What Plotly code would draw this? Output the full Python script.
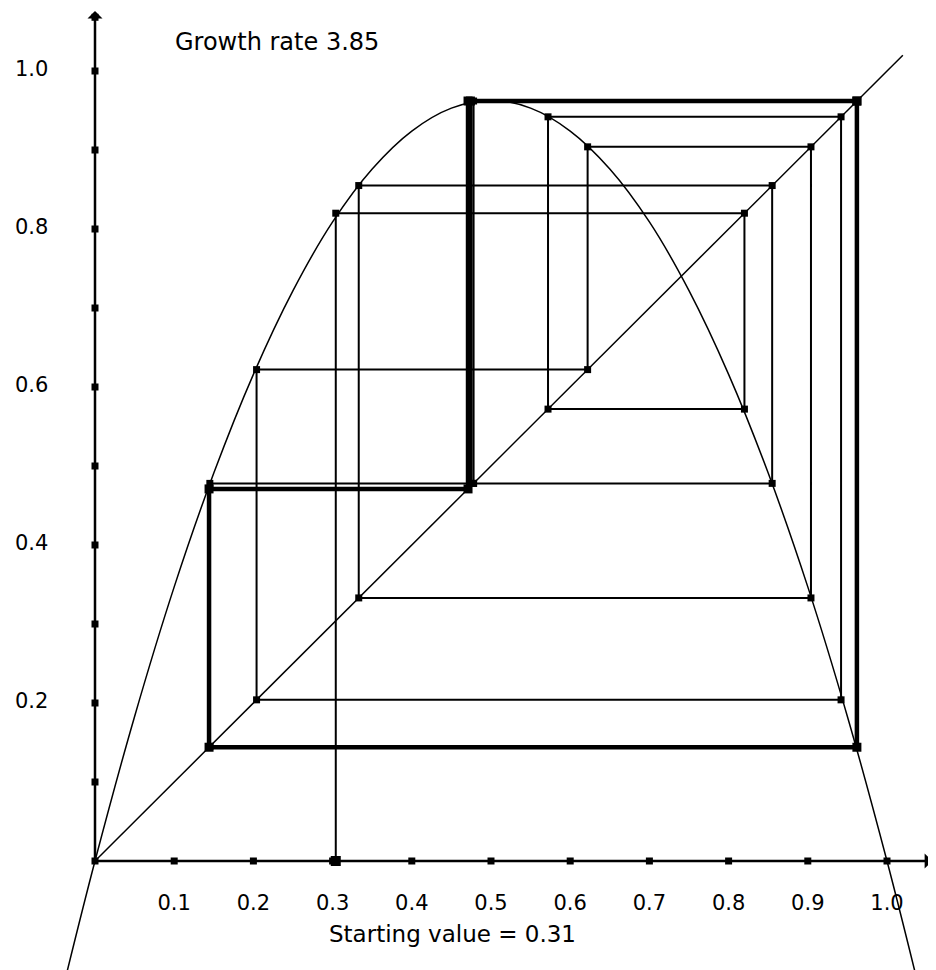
import plotly.graph_objects as go

# ---------------- data ----------------
growth_rate_text = "Growth rate 3.85"
start_text = "Starting value = 0.31"

# logistic curve y = r x (1 - x), read at regular x positions
curve_x = [-0.035, 0.0, 0.05, 0.10, 0.15, 0.20, 0.25, 0.30, 0.35, 0.40, 0.45, 0.50,
           0.55, 0.60, 0.65, 0.70, 0.75, 0.80, 0.85, 0.90, 0.95, 1.00, 1.035]
curve_y = [-0.139, 0.0, 0.183, 0.347, 0.491, 0.616, 0.722, 0.809, 0.876, 0.924, 0.953, 0.963,
           0.953, 0.924, 0.876, 0.809, 0.722, 0.616, 0.491, 0.347, 0.183, 0.0, -0.139]

# identity line
diag_x = [0.0, 1.02]
diag_y = [0.0, 1.02]

# successive values of the iteration (thin cobweb)
thin_orbit = [0.304, 0.82, 0.572, 0.942, 0.204, 0.622, 0.904, 0.333, 0.855, 0.478, 0.962, 0.145, 0.478]
# last pass drawn in bold
bold_orbit = [0.474, 0.962, 0.144, 0.471, 0.962]

# axis ticks
tick_vals = [0.1, 0.2, 0.3, 0.4, 0.5, 0.6, 0.7, 0.8, 0.9, 1.0]
x_tick_labels = ["0.1", "0.2", "0.3", "0.4", "0.5", "0.6", "0.7", "0.8", "0.9", "1.0"]
y_tick_vals = [0.2, 0.4, 0.6, 0.8, 1.0]
y_tick_labels = ["0.2", "0.4", "0.6", "0.8", "1.0"]

x_end = 1.057
y_end = 1.076


def cobweb(orbit, start_y):
    xs, ys = [orbit[0]], [start_y]
    cx, cy = [], []
    prev = orbit[0]
    for v in orbit[1:]:
        xs += [prev, v]
        ys += [v, v]
        cx += [prev, v]
        cy += [v, v]
        prev = v
    return xs, ys, cx, cy


tx, ty, tcx, tcy = cobweb(thin_orbit, 0.0)
bx, by, bcx, bcy = cobweb(bold_orbit, bold_orbit[0])

FONT = "DejaVu Sans"
fig = go.Figure()

# curve and diagonal
fig.add_trace(go.Scatter(x=curve_x, y=curve_y, mode="lines", line=dict(color="black", width=1.5, shape="spline"),
                         hoverinfo="skip"))
fig.add_trace(go.Scatter(x=diag_x, y=diag_y, mode="lines", line=dict(color="black", width=1.5), hoverinfo="skip"))

# cobweb thin
fig.add_trace(go.Scatter(x=tx, y=ty, mode="lines", line=dict(color="black", width=2), hoverinfo="skip"))
fig.add_trace(go.Scatter(x=tcx, y=tcy, mode="markers", marker=dict(symbol="square", size=7, color="black"),
                         hoverinfo="skip"))
fig.add_trace(go.Scatter(x=[thin_orbit[0]], y=[0], mode="markers",
                         marker=dict(symbol="square", size=10, color="black"), hoverinfo="skip"))
# cobweb bold
fig.add_trace(go.Scatter(x=bx, y=by, mode="lines", line=dict(color="black", width=4.5), hoverinfo="skip"))
fig.add_trace(go.Scatter(x=bcx, y=bcy, mode="markers", marker=dict(symbol="square", size=9, color="black"),
                         hoverinfo="skip"))

# axis tick dots
fig.add_trace(go.Scatter(x=[0] + tick_vals, y=[0] * (len(tick_vals) + 1), mode="markers",
                         marker=dict(symbol="square", size=7, color="black"), hoverinfo="skip"))
fig.add_trace(go.Scatter(x=[0] * len(tick_vals) + [0], y=tick_vals + [y_end - 0.008], mode="markers",
                         marker=dict(symbol="square", size=7, color="black"), hoverinfo="skip"))

# tick labels
fig.add_trace(go.Scatter(x=tick_vals, y=[-0.056] * len(tick_vals), mode="text", text=x_tick_labels,
                         textposition="middle center", textfont=dict(family=FONT, size=21, color="black"),
                         hoverinfo="skip"))
fig.add_trace(go.Scatter(x=[-0.08] * len(y_tick_vals), y=y_tick_vals, mode="text", text=y_tick_labels,
                         textposition="middle center", textfont=dict(family=FONT, size=21, color="black"),
                         hoverinfo="skip"))

# axes with arrows
fig.add_annotation(x=x_end, y=0, ax=0, ay=0, xref="x", yref="y", axref="x", ayref="y", text="",
                   showarrow=True, arrowhead=1, arrowsize=1, arrowwidth=2.5, arrowcolor="black", standoff=0)
fig.add_annotation(x=0, y=y_end, ax=0, ay=0, xref="x", yref="y", axref="x", ayref="y", text="",
                   showarrow=True, arrowhead=1, arrowsize=1, arrowwidth=2.5, arrowcolor="black", standoff=0)

# texts
fig.add_annotation(x=0.098, y=1.037, xref="x", yref="y", text=growth_rate_text, showarrow=False,
                   xanchor="left", yanchor="middle", font=dict(family=FONT, size=24, color="black"))
fig.add_annotation(x=0.451, y=-0.092, xref="x", yref="y", text=start_text, showarrow=False,
                   xanchor="center", yanchor="middle", font=dict(family=FONT, size=23, color="black"))

# page body has an 8px margin: the figure is placed at (8, 8) in the window
fig.update_layout(
    width=928, height=962,
    margin=dict(l=0, r=0, t=0, b=0),
    showlegend=False,
    paper_bgcolor="white", plot_bgcolor="white",
    xaxis=dict(range=[-87 / 792, 841 / 792], visible=False, fixedrange=True),
    yaxis=dict(range=[-109 / 790, 853 / 790], visible=False, fixedrange=True),
)

fig.write_html("out.html")
